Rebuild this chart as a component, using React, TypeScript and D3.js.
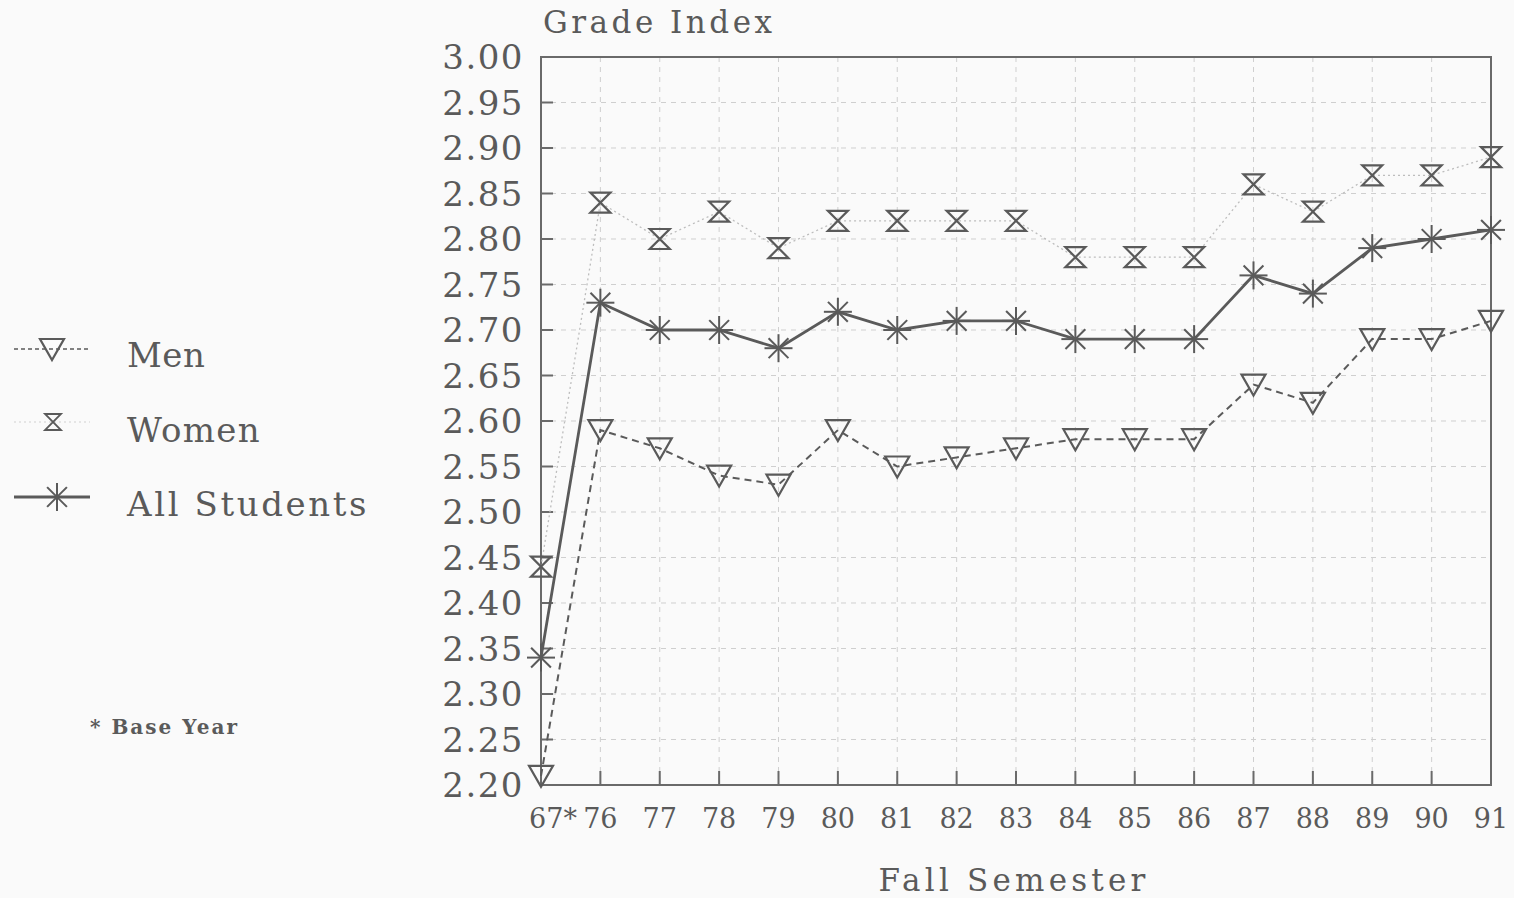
import React from "react";
import * as d3 from "d3";

const years = ["67*", "76", "77", "78", "79", "80", "81", "82", "83", "84", "85", "86", "87", "88", "89", "90", "91"];
const men = [2.21, 2.59, 2.57, 2.54, 2.53, 2.59, 2.55, 2.56, 2.57, 2.58, 2.58, 2.58, 2.64, 2.62, 2.69, 2.69, 2.71];
const women = [2.44, 2.84, 2.80, 2.83, 2.79, 2.82, 2.82, 2.82, 2.82, 2.78, 2.78, 2.78, 2.86, 2.83, 2.87, 2.87, 2.89];
const allStudents = [2.34, 2.73, 2.70, 2.70, 2.68, 2.72, 2.70, 2.71, 2.71, 2.69, 2.69, 2.69, 2.76, 2.74, 2.79, 2.80, 2.81];
const yTicks = [3.0, 2.95, 2.9, 2.85, 2.8, 2.75, 2.7, 2.65, 2.6, 2.55, 2.5, 2.45, 2.4, 2.35, 2.3, 2.25, 2.2];

const W = 1514, H = 898;
const L = 541, R = 1491, T = 57, B = 785;
const FONT = "'DejaVu Serif', serif";
const INK = "#5a5a5a";

const x = d3.scalePoint<string>().domain(years).range([L, R]);
const y = d3.scaleLinear().domain([2.2, 3.0]).range([B, T]);

function Triangle({ cx, cy }: { cx: number; cy: number }) {
  const w = 12, h = 11;
  return <path d={`M${cx - w},${cy - h + 1}L${cx + w},${cy - h + 1}L${cx},${cy + h}Z`} fill="none" stroke={INK} strokeWidth={2.2} />;
}
function HourglassMarker({ cx, cy, s = 10, sw = 2.2 }: { cx: number; cy: number; s?: number; sw?: number }) {
  return (
    <path d={`M${cx - s},${cy - s}L${cx + s},${cy - s}L${cx - s},${cy + s}L${cx + s},${cy + s}Z`} fill="none" stroke={INK} strokeWidth={sw} />
  );
}
function Star({ cx, cy }: { cx: number; cy: number }) {
  const r = 14;
  const spokes = d3.range(4).map((i) => (i * Math.PI) / 4);
  return (
    <g stroke={INK} strokeWidth={2}>
      {spokes.map((a, i) => (
        <line key={i} x1={cx - r * Math.cos(a)} y1={cy - r * Math.sin(a)} x2={cx + r * Math.cos(a)} y2={cy + r * Math.sin(a)} />
      ))}
    </g>
  );
}

export default function App() {
  const line = (vals: number[]) =>
    d3.line<number>().x((_, i) => x(years[i]) as number).y((d) => y(d))(vals) as string;

  return (
    <svg width={W} height={H} style={{ display: "block", position: "absolute", left: 0, top: 0 }} fontFamily={FONT}>
      <rect x={0} y={0} width={W} height={H} fill="#fafafa" />
      {/* grid */}
      <g stroke="#cfcfcf" strokeWidth={1} strokeDasharray="5 5">
        {years.slice(1, -1).map((yr) => (
          <line key={yr} x1={x(yr)} x2={x(yr)} y1={T} y2={B} />
        ))}
        {yTicks.slice(1, -1).map((t) => (
          <line key={t} x1={L} x2={R} y1={y(t)} y2={y(t)} />
        ))}
      </g>
      {/* frame */}
      <rect x={L} y={T} width={R - L} height={B - T} fill="none" stroke="#6a6a6a" strokeWidth={2} />
      {/* ticks */}
      <g stroke="#6a6a6a" strokeWidth={2}>
        {yTicks.map((t) => (
          <line key={t} x1={L} x2={L + 12} y1={y(t)} y2={y(t)} />
        ))}
        {years.map((yr) => (
          <line key={yr} x1={x(yr)} x2={x(yr)} y1={B} y2={B - 14} />
        ))}
      </g>
      {/* y tick labels */}
      <g fill={INK} fontSize={34} textAnchor="end" letterSpacing={1.5}>
        {yTicks.map((t) => (
          <text key={t} x={524} y={y(t) + 12}>{t.toFixed(2)}</text>
        ))}
      </g>
      {/* x tick labels */}
      <g fill={INK} fontSize={27} textAnchor="middle">
        {years.map((yr, i) => (
          <text key={yr} x={(x(yr) as number) + (i === 0 ? 12 : 0)} y={828}>{yr}</text>
        ))}
      </g>
      <text x={543} y={33} fill={INK} fontSize={31} letterSpacing={3.5}>Grade Index</text>
      <text x={1014} y={891} fill={INK} fontSize={31} letterSpacing={4.2} textAnchor="middle">Fall Semester</text>

      {/* series lines */}
      <path d={line(women)} fill="none" stroke="#bdbdbd" strokeWidth={1.3} strokeDasharray="2 3" />
      <path d={line(men)} fill="none" stroke={INK} strokeWidth={2} strokeDasharray="7 5" />
      <path d={line(allStudents)} fill="none" stroke={INK} strokeWidth={2.8} />

      {women.map((v, i) => <HourglassMarker key={"w" + i} cx={x(years[i]) as number} cy={y(v)} />)}
      {men.map((v, i) => <Triangle key={"m" + i} cx={x(years[i]) as number} cy={y(v)} />)}
      {allStudents.map((v, i) => <Star key={"a" + i} cx={x(years[i]) as number} cy={y(v)} />)}

      {/* legend */}
      <g>
        <line x1={14} x2={90} y1={349} y2={349} stroke={INK} strokeWidth={1.5} strokeDasharray="4 3" />
        <Triangle cx={52} cy={349} />
        <text x={127} y={367} fill={INK} fontSize={34} letterSpacing={0.5}>Men</text>

        <line x1={14} x2={90} y1={422} y2={422} stroke="#d0d0d0" strokeWidth={1} strokeDasharray="2 3" />
        <HourglassMarker cx={53} cy={422} s={8} sw={1.8} />
        <text x={127} y={442} fill={INK} fontSize={34} letterSpacing={1.3}>Women</text>

        <line x1={14} x2={90} y1={497} y2={497} stroke={INK} strokeWidth={3} />
        <Star cx={57} cy={497} />
        <text x={127} y={516} fill={INK} fontSize={34} letterSpacing={2.6}>All Students</text>

        <text x={90} y={734} fill={INK} fontSize={20} fontWeight="bold" letterSpacing={2}>* Base Year</text>
      </g>
    </svg>
  );
}
